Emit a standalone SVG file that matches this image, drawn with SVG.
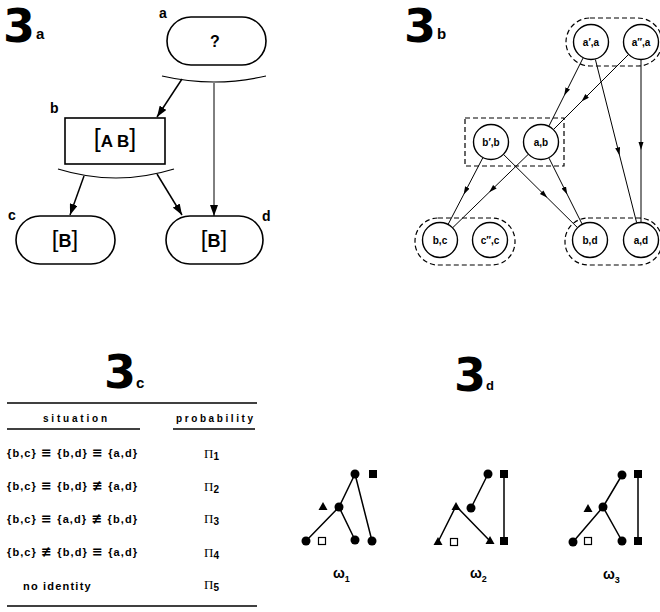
<svg xmlns="http://www.w3.org/2000/svg" width="660" height="612" viewBox="0 0 660 612">
<style>
text{font-family:"Liberation Sans",Arial,sans-serif;font-weight:bold;fill:#000}
.big{font-family:"DejaVu Sans","Liberation Sans",sans-serif;font-size:46px}
.sub{font-size:15px}
.lbl{font-size:14px}
.node{fill:#fff;stroke:#000;stroke-width:1.6}
.arc{fill:none;stroke:#000;stroke-width:1.2}
.edge{fill:none;stroke:#000;stroke-width:1.5}
.thin{fill:none;stroke:#000;stroke-width:1}
.circ{fill:#fff;stroke:#000;stroke-width:1.4}
.cl{font-size:10px;text-anchor:middle}
.grp{fill:none;stroke:#000;stroke-width:1.2;stroke-dasharray:5,3}
.row{font-size:11px}
.sym{font-family:"DejaVu Sans",sans-serif;font-size:13px;font-weight:bold}
.pi{font-family:"Liberation Serif",serif;font-weight:normal;font-size:13px}
.pis{font-family:"Liberation Sans",Arial,sans-serif;font-weight:bold;font-size:10px}
.rule{stroke:#000;stroke-width:1.5}
.tl{stroke:#000;stroke-width:1.5;fill:none}
.om{font-size:14px}
</style>
<defs>
<marker id="ah" markerUnits="userSpaceOnUse" markerWidth="12" markerHeight="8" refX="11" refY="4" orient="auto">
<path d="M0,0 L11,4 L0,8 Z" fill="#000"/>
</marker>
<marker id="mh" markerUnits="userSpaceOnUse" markerWidth="8" markerHeight="6" refX="4" refY="2.5" orient="auto">
<path d="M0,0 L8,2.5 L0,5 Z" fill="#000"/>
</marker>
</defs>
<rect width="660" height="612" fill="#fff"/>

<!-- Panel 3a -->
<g id="title-3a"><text x="3" y="42" class="big">3</text><text x="36" y="39" class="sub">a</text></g>
<g id="node-a">
<rect x="167" y="17" width="99" height="48" rx="24" class="node"/>
<text x="159" y="18" class="lbl">a</text>
<text x="215" y="47" font-size="16" text-anchor="middle">?</text>
</g>
<g id="node-b">
<rect x="65" y="118" width="100" height="46" class="node"/>
<text x="50" y="113" class="lbl">b</text>
<text x="115" y="147" font-size="17" text-anchor="middle"><tspan font-weight="normal" font-size="25">[</tspan>A B<tspan font-weight="normal" font-size="25">]</tspan></text>
</g>
<g id="node-c">
<rect x="16" y="216" width="99" height="48" rx="24" class="node"/>
<text x="8" y="220" class="lbl">c</text>
<text x="65" y="247" font-size="18" text-anchor="middle"><tspan font-weight="normal" font-size="24">[</tspan>B<tspan font-weight="normal" font-size="24">]</tspan></text>
</g>
<g id="node-d">
<rect x="166" y="216" width="97" height="48" rx="24" class="node"/>
<text x="262" y="221" class="lbl">d</text>
<text x="214" y="247" font-size="18" text-anchor="middle"><tspan font-weight="normal" font-size="24">[</tspan>B<tspan font-weight="normal" font-size="24">]</tspan></text>
</g>
<g id="connectors-3a">
<path d="M162,76 Q214,88 266,76" class="arc"/>
<path d="M58,169 Q116,187 174,169" class="arc"/>
<line x1="182" y1="79" x2="157" y2="117" class="edge" marker-end="url(#ah)"/>
<line x1="214" y1="83" x2="214" y2="216" class="thin" stroke-width="1.3" marker-end="url(#ah)"/>
<line x1="84" y1="176" x2="70" y2="215" class="edge" marker-end="url(#ah)"/>
<line x1="157" y1="174" x2="182" y2="215" class="edge" marker-end="url(#ah)"/>
</g>

<!-- Panel 3b -->
<g id="title-3b"><text x="404" y="42" class="big">3</text><text x="437" y="39" class="sub">b</text></g>
<g id="groups-3b">
<rect x="566" y="18" width="96" height="48" rx="24" class="grp"/>
<rect x="465" y="118" width="99" height="48" class="grp"/>
<rect x="415" y="218" width="100" height="47" rx="23" class="grp"/>
<rect x="565" y="218" width="97" height="47" rx="23" class="grp"/>
</g>
<g id="connectors-3b">
<path d="M583,58.1 L566,92 L549,125.9" class="thin" marker-mid="url(#mh)"/>
<path d="M595.4,59.5 L618.6,151.6 L636.6,222.5" class="thin" marker-mid="url(#mh)"/>
<path d="M628.3,54.7 L584.3,98.7 L553.7,129.3" class="thin" marker-mid="url(#mh)"/>
<path d="M641,60 L641,146 L641,222" class="thin" marker-mid="url(#mh)"/>
<path d="M482.7,158 L465.5,191 L448.3,224" class="thin" marker-mid="url(#mh)"/>
<path d="M528.1,154.5 L492,189.5 L452.9,227.5" class="thin" marker-mid="url(#mh)"/>
<path d="M503.8,154.7 L544.5,195 L577.2,227.3" class="thin" marker-mid="url(#mh)"/>
<path d="M549,158.1 L565.5,191 L582,223.9" class="thin" marker-mid="url(#mh)"/>
</g>
<g id="n-a1a"><circle cx="591" cy="42" r="17.5" class="circ"/><text x="591" y="46" class="cl">a′,a</text></g>
<g id="n-a2a"><circle cx="641" cy="42" r="17.5" class="circ"/><text x="641" y="46" class="cl">a″,a</text></g>
<g id="n-b1b"><circle cx="491" cy="142" r="17.5" class="circ"/><text x="491" y="146" class="cl">b′,b</text></g>
<g id="n-ab"><circle cx="541" cy="142" r="17.5" class="circ"/><text x="541" y="146" class="cl">a,b</text></g>
<g id="n-bc"><circle cx="440" cy="240" r="17.5" class="circ"/><text x="440" y="244" class="cl">b,c</text></g>
<g id="n-c2c"><circle cx="490" cy="240" r="17.5" class="circ"/><text x="490" y="244" class="cl">c″,c</text></g>
<g id="n-bd"><circle cx="590" cy="240" r="17.5" class="circ"/><text x="590" y="244" class="cl">b,d</text></g>
<g id="n-ad"><circle cx="641" cy="240" r="17.5" class="circ"/><text x="641" y="244" class="cl">a,d</text></g>

<!-- Panel 3c -->
<g id="table-3c">
<text x="104" y="388" class="big">3</text><text x="136" y="388" class="sub">c</text>
<line x1="7" y1="403" x2="257" y2="403" class="rule"/>
<text x="43" y="422" font-size="10" letter-spacing="2.8">situation</text>
<text x="176" y="422" font-size="10" letter-spacing="2.6">probability</text>
<line x1="7" y1="429" x2="140" y2="429" class="rule"/>
<line x1="173" y1="429" x2="255" y2="429" class="rule"/>
<text x="7" y="457" class="row" textLength="130" lengthAdjust="spacing">{b,c} <tspan class="sym">≡</tspan> {b,d} <tspan class="sym">≡</tspan> {a,d}</text>
<text x="7" y="490" class="row" textLength="130" lengthAdjust="spacing">{b,c} <tspan class="sym">≡</tspan> {b,d} <tspan class="sym">≢</tspan> {a,d}</text>
<text x="7" y="523" class="row" textLength="130" lengthAdjust="spacing">{b,c} <tspan class="sym">≡</tspan> {a,d} <tspan class="sym">≢</tspan> {b,d}</text>
<text x="7" y="556" class="row" textLength="130" lengthAdjust="spacing">{b,c} <tspan class="sym">≢</tspan> {b,d} <tspan class="sym">≡</tspan> {a,d}</text>
<text x="23" y="590" class="row" letter-spacing="1.2">no  identity</text>
<text x="204" y="458" class="pi">Π<tspan class="pis" dy="2">1</tspan></text>
<text x="204" y="491" class="pi">Π<tspan class="pis" dy="2">2</tspan></text>
<text x="204" y="523" class="pi">Π<tspan class="pis" dy="2">3</tspan></text>
<text x="204" y="557" class="pi">Π<tspan class="pis" dy="2">4</tspan></text>
<text x="204" y="589" class="pi">Π<tspan class="pis" dy="2">5</tspan></text>
<line x1="7" y1="606" x2="257" y2="606" class="rule"/>
</g>

<!-- Panel 3d -->
<g id="title-3d"><text x="454" y="391" class="big" font-size="39">3</text><text x="486" y="390" font-size="13">d</text></g>
<g id="omega1">
<path d="M355,474 L339,507 L306,541 M339,507 L355,540 M355,474 L372,541" class="tl"/>
<circle cx="355" cy="474" r="4.5"/>
<rect x="369" y="470" width="8" height="8"/>
<path d="M323,502 L327.5,510 L318.5,510 Z"/>
<circle cx="339" cy="507" r="4.5"/>
<circle cx="306" cy="541" r="4.5"/>
<rect x="318.5" y="537.5" width="7" height="7" fill="#fff" stroke="#000" stroke-width="1.2"/>
<circle cx="355" cy="540" r="4.5"/>
<circle cx="372" cy="541" r="4.5"/>
<text x="333" y="578" class="om">ω<tspan font-size="9" dy="4">1</tspan></text>
</g>
<g id="omega2">
<path d="M488,474 L471,508 M456,506 L438,542 M456,506 L490,541 M504,474 L504,541" class="tl"/>
<circle cx="488" cy="474" r="4.5"/>
<rect x="500" y="470" width="8" height="8"/>
<circle cx="471" cy="508" r="4.5"/>
<path d="M456,502 L460.5,510 L451.5,510 Z"/>
<path d="M438,537 L442.5,545 L433.5,545 Z"/>
<rect x="450.5" y="538.5" width="7" height="7" fill="#fff" stroke="#000" stroke-width="1.2"/>
<path d="M490,536 L494.5,544 L485.5,544 Z"/>
<rect x="500" y="537" width="8" height="8"/>
<text x="470" y="578" class="om">ω<tspan font-size="9" dy="4">2</tspan></text>
</g>
<g id="omega3">
<path d="M622,475 L603,507 L573,542 M603,507 L622,541 M638,474 L638,541" class="tl"/>
<circle cx="622" cy="475" r="4.5"/>
<rect x="634" y="470" width="8" height="8"/>
<path d="M588,504 L592.5,512 L583.5,512 Z"/>
<circle cx="603" cy="507" r="4.5"/>
<circle cx="573" cy="542" r="4.5"/>
<rect x="584.5" y="537.5" width="7" height="7" fill="#fff" stroke="#000" stroke-width="1.2"/>
<circle cx="622" cy="541" r="4.5"/>
<rect x="634" y="537" width="8" height="8"/>
<text x="603" y="579" class="om">ω<tspan font-size="9" dy="4">3</tspan></text>
</g>
</svg>
